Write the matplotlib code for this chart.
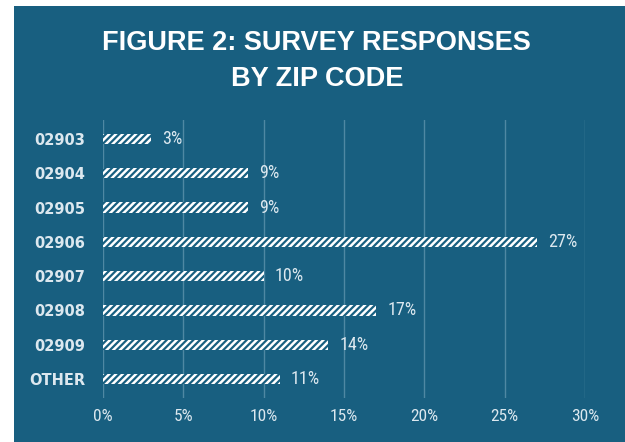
import matplotlib
matplotlib.use("Agg")
import matplotlib.pyplot as plt
from matplotlib.patches import Rectangle
from matplotlib.ticker import MultipleLocator, FuncFormatter

# survey share of responses by zip code
zip_codes = ["02903", "02904", "02905", "02906", "02907", "02908", "02909", "OTHER"]
shares = [3, 9, 9, 27, 10, 17, 14, 11]
title_lines = ["FIGURE 2: SURVEY RESPONSES", "BY ZIP CODE"]

BG = "#185f80"
GRID = "#4f88a3"
TEXT = "#dce8ef"
NARROW = ["Roboto Condensed", "Archivo Narrow", "DejaVu Sans"]

plt.rcParams["hatch.color"] = BG
plt.rcParams["hatch.linewidth"] = 1.6

fig = plt.figure(figsize=(6.25, 4.42), dpi=100)
fig.patch.set_facecolor("white")
fig.patches.append(Rectangle((14 / 625, 0), 1 - 14 / 625, 1 - 6 / 442,
                             transform=fig.transFigure, facecolor=BG,
                             edgecolor="none", zorder=-10))

for line, ypix in zip(title_lines, (40.5, 75.5)):
    fig.text(0.507, 1 - ypix / 442, line, ha="center", va="center_baseline",
             color="white", fontsize=19.5, fontweight="bold",
             family=["Liberation Sans", "DejaVu Sans"])

ax = fig.add_axes([103 / 625, 44 / 442, 482 / 625, 278 / 442])
ax.set_facecolor("none")

# white bars cut by thin blue diagonal stripes
y = list(range(len(zip_codes)))
ax.barh(y, shares, height=0.3, color="white", edgecolor=BG, linewidth=0,
        hatch="/////", zorder=3)
for yi, v in zip(y, shares):
    ax.text(v + 0.7, yi, f"{v}%", va="center", ha="left", color=TEXT,
            fontsize=13, family=NARROW)

ax.set_xlim(0, 30)
ax.set_ylim(len(zip_codes) - 0.45, -0.55)
ax.xaxis.set_major_locator(MultipleLocator(5))
ax.xaxis.set_major_formatter(FuncFormatter(lambda v, _: f"{v:.0f}%"))
ax.grid(axis="x", color=GRID, linewidth=1, zorder=0)
ax.set_axisbelow(True)
for s in ax.spines.values():
    s.set_visible(False)

ax.set_yticks(y)
ax.set_yticklabels(zip_codes)
ax.tick_params(axis="both", length=0, colors=TEXT)
for lab in ax.get_yticklabels():
    lab.set_fontweight("bold")
    lab.set_fontsize(10.5)
    lab.set_family("DejaVu Sans")
for lab in ax.get_xticklabels():
    lab.set_fontsize(12.5)
    lab.set_family(NARROW)
ax.tick_params(axis="y", pad=13)
ax.tick_params(axis="x", pad=8)

fig.savefig("out.png", dpi=100, facecolor=fig.get_facecolor())
